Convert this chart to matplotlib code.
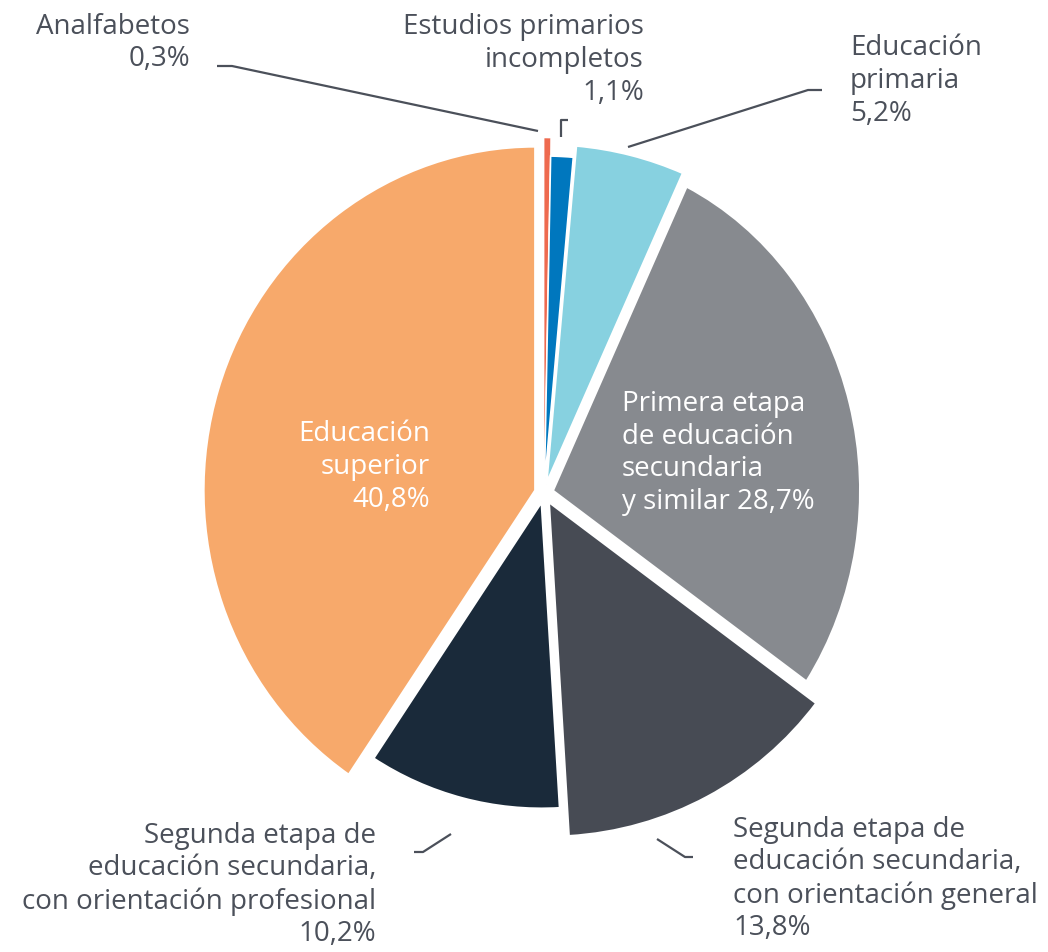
import matplotlib
matplotlib.use("Agg")
import matplotlib.pyplot as plt
import numpy as np
from matplotlib.transforms import Affine2D

# data
labels = ["Analfabetos", "Estudios primarios\nincompletos", "Educación\nprimaria",
          "Primera etapa\nde educación\nsecundaria\ny similar",
          "Segunda etapa de\neducación secundaria,\ncon orientación general",
          "Segunda etapa de\neducación secundaria,\ncon orientación profesional",
          "Educación\nsuperior"]
values = [0.3, 1.1, 5.2, 28.7, 13.8, 10.2, 40.8]
pct_text = ["0,3%", "1,1%", "5,2%", "28,7%", "13,8%", "10,2%", "40,8%"]

# style
colors = ["#EE6A4F", "#0077BE", "#87D1E0", "#878A8F", "#474B54", "#1A2A3A", "#F7A96B"]
radii = [347, 329, 340, 338, 335, 307, 344]
xscale = [1, 1, 1, 0.91, 1, 1, 0.965]
shift = [8, 8, 9, 9, 10, 9, 9]   # explode offsets in px
edge_w = [0.4, 1.2, 1.8, 1.8, 1.8, 1.8, 1.8]
txt_col = "#4B505A"

W, H = 1048, 952
fig = plt.figure(figsize=(W / 100, H / 100), dpi=100)
ax = fig.add_axes([0, 0, 1, 1])

cx, cy = 544, H - 493
R = 340
wedges, _ = ax.pie(values, colors=colors, startangle=90, counterclock=False,
                   center=(cx, cy), radius=R, explode=shift,
                   wedgeprops=dict(edgecolor="white", linewidth=1.8))


def pre_angle(th, sx):
    t = np.radians(th)
    a = np.degrees(np.arctan2(np.sin(t) * sx, np.cos(t)))
    # keep the same turn as the original angle
    while a - th > 180:
        a -= 360
    while th - a > 180:
        a += 360
    return a


for w, r, sx, lw in zip(wedges, radii, xscale, edge_w):
    w.set_radius(r)
    w.set_linewidth(lw)
    if sx != 1:
        w.set_theta1(pre_angle(w.theta1, sx))
        w.set_theta2(pre_angle(w.theta2, sx))
        wx, wy = w.center
        w.set_transform(Affine2D().translate(-wx, -wy).scale(sx, 1)
                        .translate(wx, wy) + ax.transData)

ax.set_xlim(0, W)
ax.set_ylim(0, H)
ax.set_aspect("equal")
ax.axis("off")

plt.rcParams["font.family"] = ["Open Sans", "DejaVu Sans"]
fs = 20
ls = 1.22

def lab(x, y, s, ha, color=txt_col):
    ax.text(x, H - y, s, ha=ha, va="center", fontsize=fs, color=color,
            linespacing=ls, multialignment=ha)

lab(190, 43, labels[0] + "\n" + pct_text[0], "right")
lab(644, 60, labels[1] + "\n" + pct_text[1], "right")
lab(850, 81, labels[2] + "\n" + pct_text[2], "left")
lab(733, 879, labels[4] + "\n" + pct_text[4], "left")
lab(376, 885, labels[5] + "\n" + pct_text[5], "right")
lab(430, 467, labels[6] + "\n" + pct_text[6], "right", "white")
lab(622, 453, labels[3] + " " + pct_text[3], "left", "white")

# leader lines
leaders = [
    [(217, 66), (232, 66), (538, 131)],
    [(561, 137), (561, 120), (568, 120)],
    [(628, 147), (808, 90), (822, 90)],
    [(657, 839), (685, 857), (693, 857)],
    [(451, 834), (423, 852), (414, 852)],
]
for pts in leaders:
    xs = [p[0] for p in pts]
    ys = [H - p[1] for p in pts]
    ax.plot(xs, ys, color=txt_col, lw=1.6, solid_capstyle="butt")

fig.savefig("out.png", dpi=100)
